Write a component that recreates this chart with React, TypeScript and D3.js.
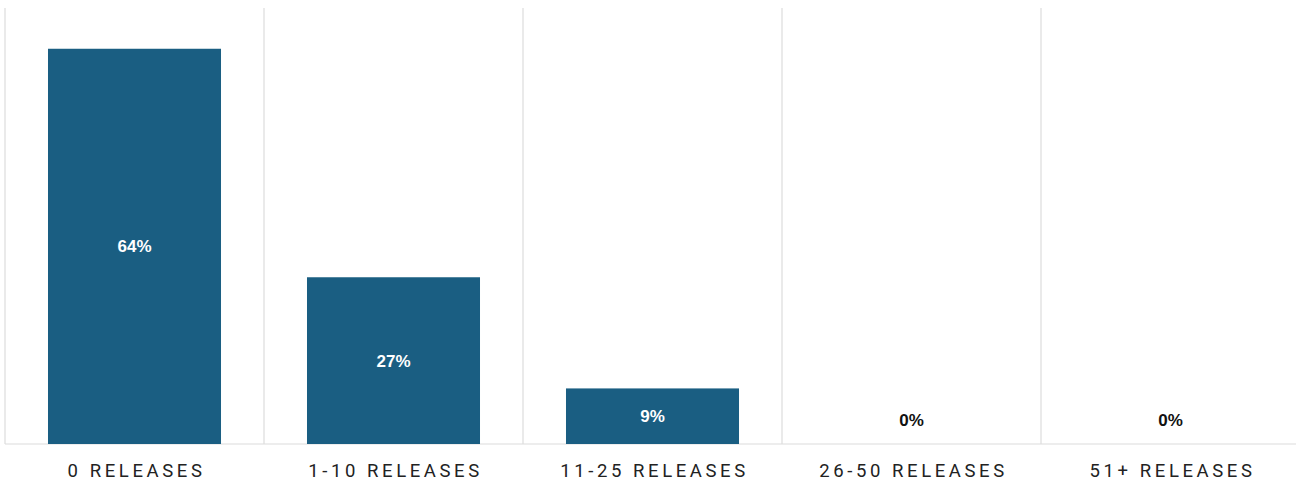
import React from "react";
import * as d3 from "d3";

const categories = ["0 RELEASES", "1-10 RELEASES", "11-25 RELEASES", "26-50 RELEASES", "51+ RELEASES"];
const values = [64, 27, 9, 0, 0];
const labels = ["64%", "27%", "9%", "0%", "0%"];

export default function App() {
  const W = 1296, H = 481;
  const left = 5, right = 1300, top = 8, bottom = 444;
  const x = d3.scaleBand<string>().domain(categories).range([left, right]).paddingInner(0).paddingOuter(0);
  const y = d3.scaleLinear().domain([0, 70.6]).range([bottom, top]);
  const bw = x.bandwidth() * 0.668;
  return (
    <svg width={W} height={H} style={{ position: "absolute", left: 0, top: 0 }}>
      <rect x={0} y={0} width={W} height={H} fill="#fff" />
      {categories.map((c, i) => (
        <line key={"g" + i} x1={x(c)!} x2={x(c)!} y1={top} y2={bottom} stroke="#dcdcdc" strokeWidth={1.2} />
      ))}
      <line x1={left} x2={W} y1={bottom} y2={bottom} stroke="#dcdcdc" strokeWidth={1.2} />
      {categories.map((c, i) => {
        const cx = x(c)! + x.bandwidth() / 2;
        const v = values[i];
        const yt = y(v);
        const inside = v > 3;
        return (
          <g key={c}>
            {v > 0 && <rect x={cx - bw / 2} y={yt} width={bw} height={bottom - yt} fill="#1a5e82" />}
            <text
              x={cx}
              y={inside ? (yt + bottom) / 2 : bottom - 24}
              dy="0.35em"
              textAnchor="middle"
              fontFamily="Liberation Sans, Arial, sans-serif"
              fontWeight="bold"
              fontSize={17}
              fill={inside ? "#fff" : "#111"}
            >
              {labels[i]}
            </text>
            <text
              x={cx + 2}
              y={477}
              textAnchor="middle"
              fontFamily="Roboto, sans-serif"
              fontSize={18.5}
              letterSpacing={3.6}
              fill="#222"
            >
              {c}
            </text>
          </g>
        );
      })}
    </svg>
  );
}
